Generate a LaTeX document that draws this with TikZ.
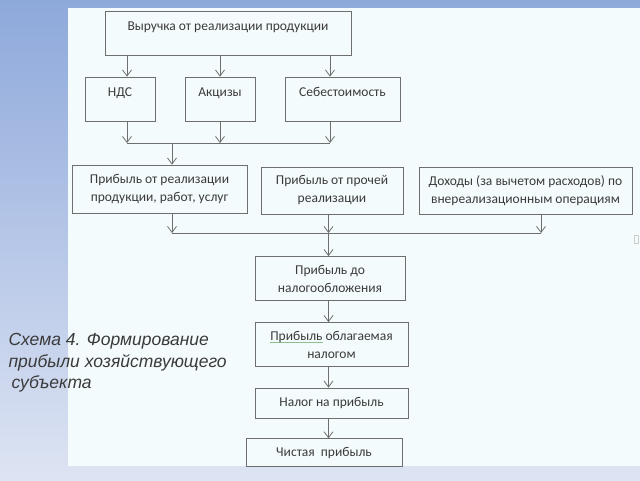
\documentclass[tikz,border=0pt]{standalone}
\usepackage{fontspec}
\setmainfont{Carlito}
\newfontfamily\capfont{Liberation Sans}
\usetikzlibrary{arrows.meta}

\definecolor{bgtop}{HTML}{8EA9DB}
\definecolor{bgbot}{HTML}{DDE4F3}
\definecolor{panel}{HTML}{F4FBFD}
\definecolor{edge}{HTML}{6E6E6E}
\definecolor{ink}{HTML}{3A3A3A}
\definecolor{squig}{HTML}{8CBF8C}

\newcommand{\spellmark}[1]{\setbox0\hbox{#1}\rlap{\color{squig}\rule[-2.5pt]{\wd0}{0.7pt}}#1}

\begin{document}
\begin{tikzpicture}[
  x=1pt, y=-1pt,
  box/.style={draw=edge, line width=0.8pt, fill=panel, text=ink, align=center,
    inner sep=0pt, font=\fontsize{13.5}{18}\selectfont},
  toptext/.style={text=ink, anchor=center, yshift=-17pt, text height=9pt, text depth=3pt,
    font=\fontsize{13.5}{18}\selectfont},
  flow/.style={draw=edge, line width=0.8pt, -{Straight Barb[length=6pt,width=9pt]}},
  link/.style={draw=edge, line width=0.8pt}
]
  \shade[top color=bgtop, bottom color=bgbot] (0,0) rectangle (640,480);
  \fill[panel] (68,8) rectangle (640,466);
  \draw[draw=gray!40, line width=0.6pt] (634,235) rectangle (638,243);

  \node[box, minimum width=246, minimum height=44,
    label={[toptext]north:Выручка от реализации продукции}] (rev) at (228, 33) {};

  \node[box, minimum width=70, minimum height=44,
    label={[toptext]north:НДС}] (vat) at (120, 99) {};
  \node[box, minimum width=70, minimum height=44,
    label={[toptext]north:Акцизы}] (exc) at (220, 99) {};
  \node[box, minimum width=115, minimum height=44,
    label={[toptext]north:Себестоимость}] (cost) at (342.5, 99) {};

  \node[box, minimum width=175, minimum height=48] (pr1) at (159.5, 189)
    {Прибыль от реализации\\продукции, работ, услуг};
  \node[box, minimum width=142, minimum height=47] (pr2) at (332, 190.5)
    {Прибыль от прочей\\реализации};
  \node[box, minimum width=213, minimum height=47] (pr3) at (525.5, 190.5)
    {Доходы (за вычетом расходов) по\\внереализационным операциям};

  \node[box, minimum width=150, minimum height=44] (pbt) at (330, 278.5)
    {Прибыль до\\налогообложения};
  \node[box, minimum width=153, minimum height=44] (ptx) at (331.5, 344.5)
    {\spellmark{Прибыль} облагаемая\\налогом};
  \node[box, minimum width=153, minimum height=30] (tax) at (331.5, 403)
    {Налог на прибыль};
  \node[box, minimum width=156, minimum height=27.5] (net) at (324, 452.5)
    {Чистая\ \ прибыль};

  \node[anchor=north west, align=left, text=ink,
    font=\capfont\itshape\fontsize{17.5}{21.3}\selectfont] (cap) at (5, 330)
    {Схема 4. Формирование\\прибыли хозяйствующего\\\hspace{3pt}субъекта};

  \coordinate (k1) at (127, 143);
  \coordinate (k2) at (220, 143);
  \coordinate (k3) at (330, 143);
  \coordinate (j1) at (172, 143);
  \coordinate (m1) at (172, 233);
  \coordinate (m2) at (328.5, 233);
  \coordinate (m3) at (541, 233);

  \draw[flow] (rev.south -| k1) -- (vat.north -| k1);
  \draw[flow] (rev.south -| k2) -- (exc.north -| k2);
  \draw[flow] (rev.south -| k3) -- (cost.north -| k3);

  \draw[flow] (vat.south -| k1) -- (k1);
  \draw[flow] (exc.south -| k2) -- (k2);
  \draw[flow] (cost.south -| k3) -- (k3);
  \draw[link] (k1) -- (k3);
  \draw[flow] (j1) -- (pr1.north -| j1);

  \draw[flow] (pr1.south -| m1) -- (m1);
  \draw[flow] (pr2.south -| m2) -- (m2);
  \draw[flow] (pr3.south -| m3) -- (m3);
  \draw[link] (m1) -- (m3);
  \draw[flow] (m2) -- (pbt.north -| m2);

  \draw[flow] (pbt.south -| m2) -- (ptx.north -| m2);
  \draw[flow] (ptx.south -| m2) -- (tax.north -| m2);
  \draw[flow] (tax.south -| m2) -- (net.north -| m2);
\end{tikzpicture}
\end{document}
